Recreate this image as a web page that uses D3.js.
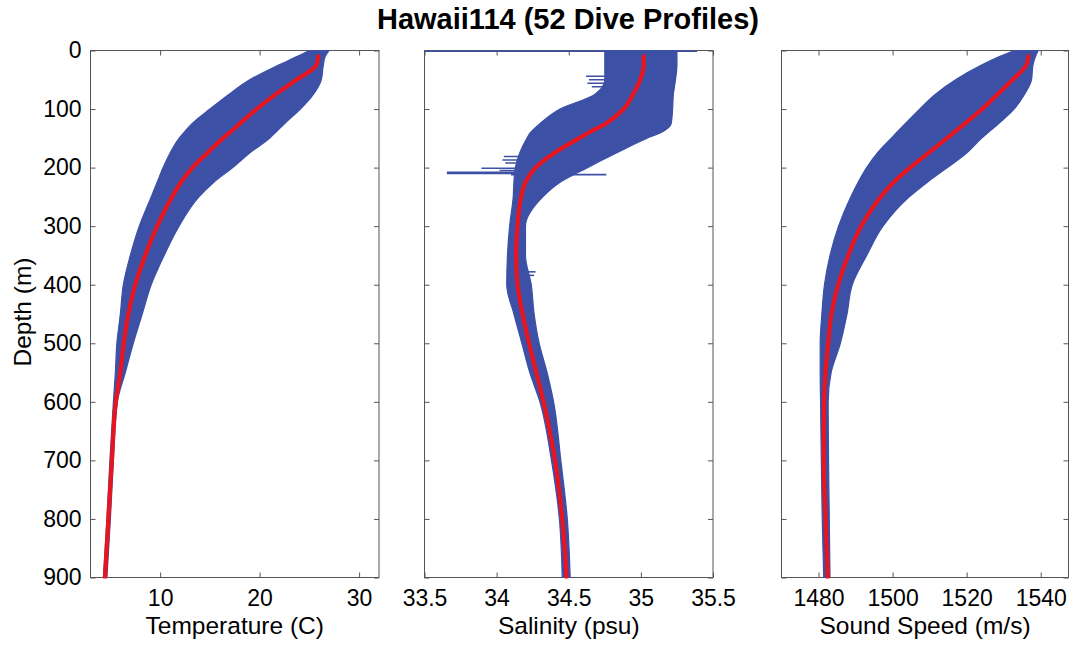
<!DOCTYPE html>
<html>
<head>
<meta charset="utf-8">
<script src="https://cdn.jsdelivr.net/npm/d3@7"></script>
<style>
  body { margin: 0; background: #fff; }
  svg { display: block; }
  text { font-family: "Liberation Sans", Arial, Helvetica, sans-serif; fill: #000; }
</style>
</head>
<body>
<svg id="chart" width="1073" height="645"></svg>
<script>
// Depth levels (m) shared by every profile summary below
const depths = [0, 10, 25, 50, 75, 100, 125, 140, 150, 175, 200, 225, 250, 300, 350, 400, 450, 500, 550, 600, 700, 800, 900];

// Temperature (C): mean profile and spread of the 52 dives
const tempMean = [null, 25.9, 25.7, 23.7, 21.6, 19.7, 18.0, 17.0, 16.3, 14.75, 13.25, 12.1, 11.2, 9.7, 8.5, 7.5, 6.8, 6.35, 6.0, 5.55, 5.15, 4.8, 4.45];
const tempMin  = [25.0, 23.8, 21.9, 19.0, 16.9, 15.0, 13.2, 12.4, 11.9, 11.0, 10.3, 9.7, 9.1, 7.9, 7.0, 6.3, 6.0, 5.65, 5.5, 5.3, 4.95, 4.65, 4.3];
const tempMax  = [27.0, 26.6, 26.4, 26.2, 25.4, 24.1, 22.5, 21.6, 21.0, 19.0, 17.3, 15.4, 13.9, 11.9, 10.4, 9.1, 8.2, 7.3, 6.5, 5.7, 5.3, 5.0, 4.65];

// Salinity (psu)
const salMean = [null, 35.02, 35.02, 34.995, 34.945, 34.88, 34.755, 34.64, 34.57, 34.40, 34.27, 34.20, 34.17, 34.145, 34.135, 34.145, 34.18, 34.225, 34.275, 34.325, 34.405, 34.455, 34.485];
const salMin  = [34.75, 34.75, 34.75, 34.75, 34.68, 34.44, 34.30, 34.235, 34.21, 34.16, 34.13, 34.12, 34.115, 34.09, 34.075, 34.07, 34.12, 34.175, 34.23, 34.30, 34.38, 34.435, 34.455];
const salMax  = [35.25, 35.25, 35.25, 35.24, 35.225, 35.22, 35.21, 35.14, 35.04, 34.83, 34.63, 34.44, 34.32, 34.20, 34.20, 34.24, 34.26, 34.295, 34.35, 34.395, 34.445, 34.49, 34.51];
// Salinity sensor spikes: [depth, low, high]
const salSpikes = [
  [0, 33.5, 35.39], [44, 34.62, 34.75], [50, 34.64, 34.75], [56, 34.63, 34.75], [62, 34.66, 34.75],
  [181, 34.05, 34.16], [187, 34.04, 34.16], [192, 34.06, 34.16], [201, 33.895, 34.14], [205, 34.02, 34.14],
  [209, 33.655, 34.14], [212, 34.10, 34.76], [378, 34.20, 34.27], [384, 34.20, 34.26]
];

// Sound speed (m/s)
const ssMean = [null, 1536.7, 1536.1, 1532.4, 1528.3, 1524.2, 1519.5, 1516.6, 1514.6, 1509.7, 1504.7, 1500.3, 1496.8, 1491.5, 1488.0, 1485.3, 1483.5, 1482.6, 1481.9, 1481.5, 1481.4, 1481.9, 1482.5];
const ssMin  = [1532.9, 1529.0, 1524.0, 1517.0, 1511.5, 1507.3, 1503.4, 1501.1, 1499.6, 1495.9, 1493.0, 1490.7, 1488.7, 1485.4, 1483.1, 1481.6, 1480.9, 1480.45, 1480.45, 1480.55, 1480.75, 1481.0, 1481.4];
const ssMax  = [1539.3, 1538.6, 1537.9, 1537.5, 1535.6, 1532.8, 1528.6, 1525.8, 1524.0, 1520.0, 1514.8, 1509.4, 1504.5, 1497.4, 1493.0, 1489.1, 1487.7, 1485.9, 1483.4, 1482.6, 1482.7, 1482.9, 1483.1];

// Axis ticks
const depthTicks = [0, 100, 200, 300, 400, 500, 600, 700, 800, 900];
const tempTicks = [10, 20, 30];
const salTicks = [33.5, 34, 34.5, 35, 35.5];
const ssTicks = [1480, 1500, 1520, 1540];

const BLUE = "#3c50a6";
const RED = "#e8141e";
const FRAME = "#555555";

const svg = d3.select("#chart");
const plotTop = 50.5, plotBottom = 577.5;
const y = d3.scaleLinear().domain([0, 900]).range([plotTop, plotBottom]);

const panels = [
  { x0: 90.5,  x1: 379,    domain: [3, 32],        ticks: tempTicks, mean: tempMean, lo: tempMin, hi: tempMax, label: "Temperature (C)", yLabels: true },
  { x0: 424.5, x1: 713,    domain: [33.5, 35.5],   ticks: salTicks,  mean: salMean,  lo: salMin,  hi: salMax,  label: "Salinity (psu)", spikes: salSpikes },
  { x0: 781.5, x1: 1068.5, domain: [1470, 1547.5], ticks: ssTicks,   mean: ssMean,   lo: ssMin,   hi: ssMax,   label: "Sound Speed (m/s)" }
];

panels.forEach((p, i) => {
  const x = d3.scaleLinear().domain(p.domain).range([p.x0, p.x1]);
  const g = svg.append("g");

  // box
  g.append("rect")
    .attr("x", p.x0).attr("y", plotTop)
    .attr("width", p.x1 - p.x0).attr("height", plotBottom - plotTop)
    .attr("fill", "none").attr("stroke", FRAME).attr("stroke-width", 1);

  const styleAxis = sel => {
    sel.select(".domain").remove();
    sel.selectAll(".tick line").attr("stroke", FRAME);
    sel.selectAll("text").attr("font-size", 23).attr("fill", "#000")
      .attr("font-family", '"Liberation Sans", Arial, sans-serif');
  };

  // x axes: bottom with labels, top ticks only
  g.append("g").attr("transform", `translate(0,${plotBottom})`)
    .call(d3.axisBottom(x).tickValues(p.ticks).tickSize(-5).tickPadding(12).tickFormat(d3.format("")))
    .call(styleAxis);
  g.append("g").attr("transform", `translate(0,${plotTop})`)
    .call(d3.axisTop(x).tickValues(p.ticks).tickSize(-5).tickFormat(""))
    .call(styleAxis);

  // y axes: left and right ticks, labels on first panel only
  g.append("g").attr("transform", `translate(${p.x0},0)`)
    .call(d3.axisLeft(y).tickValues(depthTicks).tickSize(-5).tickPadding(9).tickFormat(p.yLabels ? d3.format("") : ""))
    .call(styleAxis);
  g.append("g").attr("transform", `translate(${p.x1},0)`)
    .call(d3.axisRight(y).tickValues(depthTicks).tickSize(-5).tickFormat(""))
    .call(styleAxis);

  // x label
  g.append("text")
    .attr("x", (p.x0 + p.x1) / 2).attr("y", 634)
    .attr("text-anchor", "middle").attr("font-size", 24.5)
    .text(p.label);

  // data
  const clipId = "clip" + i;
  svg.append("clipPath").attr("id", clipId)
    .append("rect").attr("x", p.x0 - 1).attr("y", plotTop - 1)
    .attr("width", p.x1 - p.x0 + 2).attr("height", plotBottom - plotTop + 2);
  const dg = svg.append("g").attr("clip-path", `url(#${clipId})`);

  const rows = depths.map((d, k) => ({ d, lo: p.lo[k], hi: p.hi[k], m: p.mean[k] }));

  const band = d3.area()
    .y(r => y(r.d))
    .x0(r => x(r.lo))
    .x1(r => x(r.hi))
    .curve(d3.curveMonotoneY);
  dg.append("path").datum(rows)
    .attr("d", band)
    .attr("fill", BLUE).attr("stroke", BLUE).attr("stroke-width", 1.2)
    .attr("stroke-linejoin", "round");

  if (p.spikes) {
    dg.selectAll("line.spike").data(p.spikes).join("line")
      .attr("class", "spike")
      .attr("x1", s => x(s[1])).attr("x2", s => x(s[2]))
      .attr("y1", s => y(s[0]) + (s[0] === 0 ? 0.8 : 0)).attr("y2", s => y(s[0]) + (s[0] === 0 ? 0.8 : 0))
      .attr("stroke", BLUE)
      .attr("stroke-width", s => (s[0] === 209 ? 2.6 : 1.6));
  }

  const meanLine = d3.line()
    .defined(r => r.m != null)
    .y(r => y(r.d))
    .x(r => x(r.m))
    .curve(d3.curveMonotoneY);
  dg.append("path").datum(rows)
    .attr("d", meanLine)
    .attr("fill", "none").attr("stroke", RED)
    .attr("stroke-width", 4.2).attr("stroke-linecap", "round");
});

// y-axis title
svg.append("text")
  .attr("transform", "translate(31,312) rotate(-90)")
  .attr("text-anchor", "middle").attr("font-size", 24.5)
  .text("Depth (m)");

// chart title
svg.append("text")
  .attr("x", 568).attr("y", 29)
  .attr("text-anchor", "middle").attr("font-size", 29).attr("font-weight", "bold")
  .text("Hawaii114 (52 Dive Profiles)");
</script>
</body>
</html>
